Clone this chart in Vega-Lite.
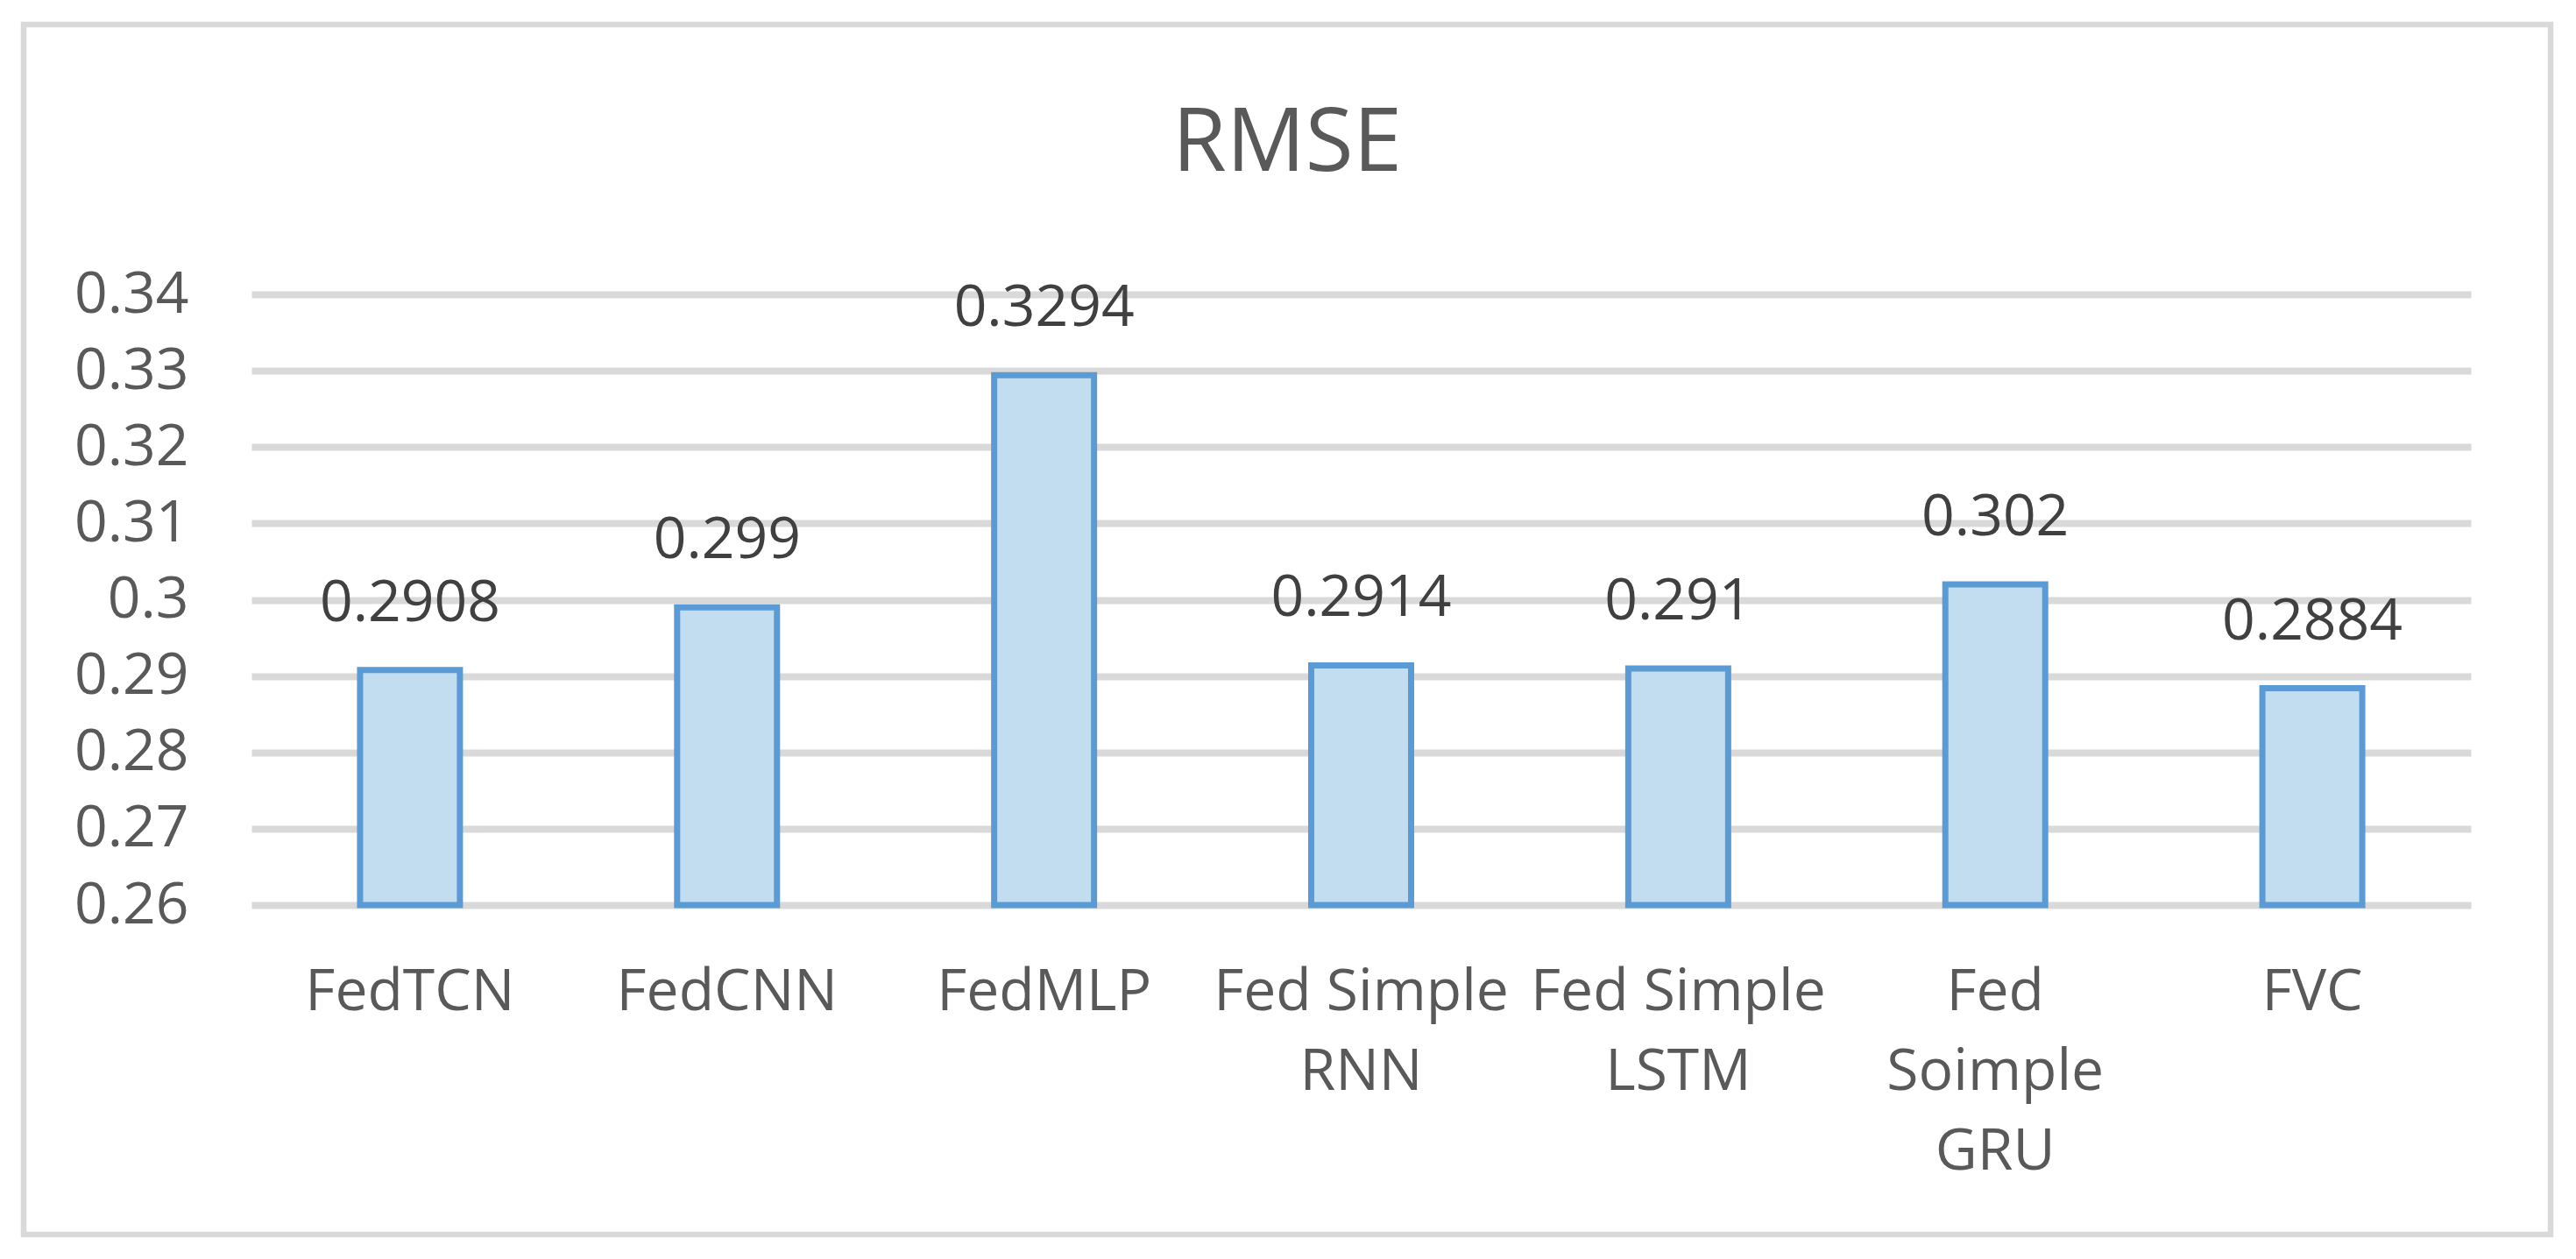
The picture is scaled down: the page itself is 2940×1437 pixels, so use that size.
{
  "$schema": "https://vega.github.io/schema/vega-lite/v6.json",
  "autosize": {"type": "none"},
  "width": 2884,
  "height": 1381,
  "padding": {"left": 27, "top": 28, "right": 29, "bottom": 28},
  "background": "white",
  "config": {
    "font": "Open Sans",
    "view": {"stroke": "#d9d9d9", "strokeWidth": 6.5, "fill": "white"}
  },
  "title": {
    "text": "RMSE",
    "anchor": "middle",
    "frame": "group",
    "baseline": "alphabetic",
    "offset": -267,
    "fontSize": 100,
    "fontWeight": "normal",
    "color": "#595959",
    "font": "Open Sans"
  },
  "data": {
    "values": [
      {"model": "FedTCN", "rmse": 0.2908},
      {"model": "FedCNN", "rmse": 0.299},
      {"model": "FedMLP", "rmse": 0.3294},
      {"model": "Fed Simple RNN", "rmse": 0.2914},
      {"model": "Fed Simple LSTM", "rmse": 0.291},
      {"model": "Fed Soimple GRU", "rmse": 0.302},
      {"model": "FVC", "rmse": 0.2884}
    ]
  },
  "encoding": {
    "x": {
      "field": "model",
      "type": "nominal",
      "sort": null,
      "scale": {"range": [260, 2793], "paddingInner": 0.685, "paddingOuter": 0.3425},
      "axis": {
        "title": null,
        "domain": false,
        "ticks": false,
        "tickSize": 0,
        "grid": false,
        "labelAngle": 0,
        "labelAlign": "center",
        "labelBaseline": "alphabetic",
        "labelPadding": 0,
        "offset": -257,
        "labelFontSize": 66,
        "labelColor": "#595959",
        "labelFont": "Open Sans",
        "labelLimit": 1000,
        "labelOverlap": false,
        "labelLineHeight": 91,
        "labelExpr": "datum.value == 'Fed Simple RNN' ? ['Fed Simple', 'RNN'] : datum.value == 'Fed Simple LSTM' ? ['Fed Simple', 'LSTM'] : datum.value == 'Fed Soimple GRU' ? ['Fed', 'Soimple', 'GRU'] : datum.label"
      }
    },
    "y": {
      "field": "rmse",
      "type": "quantitative",
      "scale": {"domain": [0.26, 0.34], "range": [1005, 308], "zero": false, "nice": false},
      "axis": {
        "title": null,
        "domain": false,
        "ticks": false,
        "tickSize": 0,
        "values": [0.26, 0.27, 0.28, 0.29, 0.3, 0.31, 0.32, 0.33, 0.34],
        "format": "~g",
        "grid": true,
        "gridColor": "#d9d9d9",
        "gridWidth": 8,
        "labelPadding": 0,
        "offset": -188,
        "labelFontSize": 66,
        "labelColor": "#595959",
        "labelFont": "Open Sans"
      }
    }
  },
  "layer": [
    {
      "mark": {"type": "bar", "fill": "#c2ddf0", "stroke": "#5b9bd5", "strokeWidth": 7},
      "encoding": {"y2": {"datum": 0.26}}
    },
    {
      "mark": {"type": "text", "baseline": "alphabetic", "dy": -56, "fontSize": 66, "color": "#404040", "font": "Open Sans"},
      "encoding": {"text": {"field": "rmse", "type": "quantitative", "format": "~g"}}
    }
  ]
}
